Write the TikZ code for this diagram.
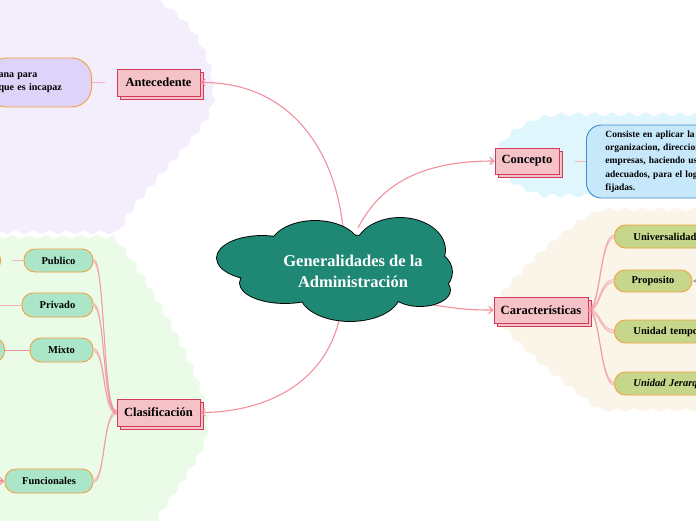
\documentclass[tikz,border=0pt]{standalone}
\usepackage{fontspec}
\setmainfont{Liberation Serif}
\usetikzlibrary{arrows.meta,shadows,decorations.pathmorphing}
\definecolor{lavbg}{HTML}{F4EDFC}
\definecolor{greenbg}{HTML}{EAFBE8}
\definecolor{bluebg}{HTML}{E0F6FD}
\definecolor{creambg}{HTML}{FAF5E8}
\definecolor{cloudteal}{HTML}{1E8875}
\definecolor{boxfill}{HTML}{F5C2C7}
\definecolor{boxborder}{HTML}{D23A5B}
\definecolor{linkpink}{HTML}{F2909E}
\definecolor{pillorange}{HTML}{F3A03F}
\definecolor{lavpill}{HTML}{DED3F8}
\definecolor{bluepill}{HTML}{C7E8FA}
\definecolor{blueborder}{HTML}{3F8CCB}
\definecolor{greenpill}{HTML}{C6D78B}
\definecolor{mintpill}{HTML}{ABE6C9}
\tikzset{
  blob/.style={decorate, decoration={snake, amplitude=1.8pt, segment length=17pt}},
  topic/.style={draw=boxborder, fill=boxfill, line width=0.9pt, inner sep=0pt,
    font=\bfseries\fontsize{12.5}{14}\selectfont, minimum height=27pt,
    copy shadow={shadow xshift=3pt, shadow yshift=-3pt, fill=boxfill, draw=boxborder, line width=0.9pt}},
  link/.style={draw=linkpink, line width=1.1pt, -{Straight Barb[length=4pt,width=7pt]}},
  strand/.style={draw=linkpink, line width=0.7pt, opacity=0.65},
  faint/.style={draw=linkpink!70, line width=0.8pt},
  pill/.style={draw=pillorange, line width=0.9pt, rounded corners=11pt, inner sep=0pt,
    minimum height=23pt, font=\bfseries\fontsize{10.5}{12}\selectfont},
  chpill/.style={pill, fill=greenpill},
  mpill/.style={pill, fill=mintpill},
  widepill/.style={chpill, anchor=west, align=left, text width=110pt, inner xsep=19pt},
}
\begin{document}
\begin{tikzpicture}[x=1pt,y=-1pt]
\useasboundingbox (0,0) rectangle (696,520);
\clip (0,0) rectangle (696,520);
\fill[white] (0,0) rectangle (696,520);
% background blobs
\fill[lavbg, blob] (-10,-10) -- (150,-10) -- (150,0) .. controls (185,20) and (205,55) .. (205,95)
  .. controls (205,130) and (125,190) .. (110,232) -- (-10,232) -- cycle;
\fill[greenbg, blob] (-10,237) -- (110,237) .. controls (140,270) and (205,380) .. (205,425)
  .. controls (205,460) and (160,500) .. (150,530) -- (-10,530) -- cycle;
\fill[bluebg, blob] (490,162) .. controls (500,140) and (525,120) .. (560,118) -- (710,118)
  -- (710,206) -- (545,206) .. controls (515,200) and (495,185) .. cycle;
\fill[creambg, blob] (490,310) .. controls (510,280) and (560,230) .. (600,212) -- (710,212)
  -- (710,410) -- (600,410) .. controls (560,380) and (510,340) .. cycle;

% topic boxes
\node[topic, minimum width=83pt] (ante) at (158.5,82.5) {Antecedente};
\node[topic, minimum width=64pt, minimum height=26pt] (conc) at (527,161) {Concepto};
\node[topic, minimum width=94pt, minimum height=26pt] (cara) at (541,310) {Características};
\node[topic, minimum width=83pt] (clas) at (158.5,412.5) {Clasificación};

% sub nodes
\node[draw=pillorange, fill=lavpill, line width=0.9pt, rounded corners=20pt, anchor=east,
  minimum height=49pt, text width=81pt, inner xsep=12pt, align=left,
  font=\bfseries\fontsize{10}{12.5}\selectfont] (antx) at (92,82.5) {ana para\\que es incapaz};
\node[draw=blueborder, fill=bluepill, line width=0.9pt, rounded corners=15pt, anchor=west,
  minimum height=73pt, text width=130pt, inner xsep=19pt, align=left,
  font=\bfseries\fontsize{9.5}{13.3}\selectfont] (concx) at (586,161.5)
  {Consiste en aplicar la\\organizacion, direccion\\empresas, haciendo uso\\adecuados, para el logro\\fijadas.};

\node[widepill] (uni) at (614,236.5) {Universalidad};
\node[chpill, minimum width=78pt, minimum height=22pt] (prop) at (653,281) {Proposito};
\node[widepill] (tem) at (614,331.5) {Unidad temporal};
\node[widepill, font=\bfseries\itshape\fontsize{10.5}{12}\selectfont] (jer) at (614,383.5) {Unidad Jerarquica};

\node[mpill, minimum width=69pt] (pub) at (58.5,260.5) {Publico};
\node[mpill, minimum width=71pt, minimum height=24pt] (priv) at (57.5,305) {Privado};
\node[mpill, minimum width=63pt, minimum height=24pt] (mix) at (61.5,350) {Mixto};
\node[mpill, minimum width=88pt, minimum height=24pt] (func) at (49,481) {Funcionales};
\node[mpill, minimum width=60pt, anchor=east] (pub0) at (1,260.5) {};
\node[mpill, minimum width=60pt, minimum height=24pt, anchor=east] (mix0) at (5,350) {};
\coordinate (privL) at (-10,305);
\coordinate (funcL) at (-25,481);
\coordinate (propR) at (725,281);

% faint child links
\draw[faint, shorten >=12pt] (antx.east) -- (ante.west);
\draw[faint, shorten <=15pt] (conc.east) -- (concx.west);
\draw[faint, shorten <=11pt] (pub0.east) -- (pub.west);
\draw[faint] (privL) -- (priv.west);
\draw[draw=linkpink, line width=1pt] (mix0.east) -- (mix.west);
\draw[link] (funcL) -- (func.west);
\draw[draw=gray!70, line width=1pt, -{Latex[length=5pt,width=6pt]}] (propR) -- (prop.east);

% strands
\foreach \t in {uni,prop,tem,jer}{
  \foreach \d in {-1.6,0,1.6}{
    \draw[strand] ([yshift=\d pt]cara.east) .. controls +(12,0) and +(-14,0) .. ([yshift=\d pt]\t.west);
  }
}
\foreach \t in {pub,priv,mix,func}{
  \foreach \d in {-1.6,0,1.6}{
    \draw[strand] ([yshift=\d pt]clas.west) .. controls +(-14,0) and +(12,0) .. ([yshift=\d pt]\t.east);
  }
}

% main links
\coordinate (c1) at (343,228);
\coordinate (c2) at (358,228);
\coordinate (c3) at (410,300);
\coordinate (c4) at (342,305);
\draw[link] (c1) .. controls (335,150) and (290,82) .. (ante.east);
\draw[link] (c2) .. controls (380,185) and (420,161) .. (conc.west);
\draw[link] (c3) .. controls (450,309) and (470,310) .. (cara.west);
\draw[link] (c4) .. controls (332,380) and (270,412) .. (clas.east);

% cloud
\def\cloudparts{(262,258) ellipse [x radius=45, y radius=22]
  (315,248) ellipse [x radius=45, y radius=27]
  (400,250) ellipse [x radius=45, y radius=32]
  (420,272) ellipse [x radius=32, y radius=24]
  (285,283) ellipse [x radius=45, y radius=20]
  (350,293) ellipse [x radius=50, y radius=28]
  (420,290) ellipse [x radius=30, y radius=16]
  (340,265) ellipse [x radius=80, y radius=30]}
\draw[black, line width=1.8pt] \cloudparts;
\fill[cloudteal] \cloudparts;
\node[text=white, align=center, font=\bfseries\fontsize{16.5}{21}\selectfont] (root) at (353,271)
  {Generalidades de la\\Administración};
\end{tikzpicture}
\end{document}
